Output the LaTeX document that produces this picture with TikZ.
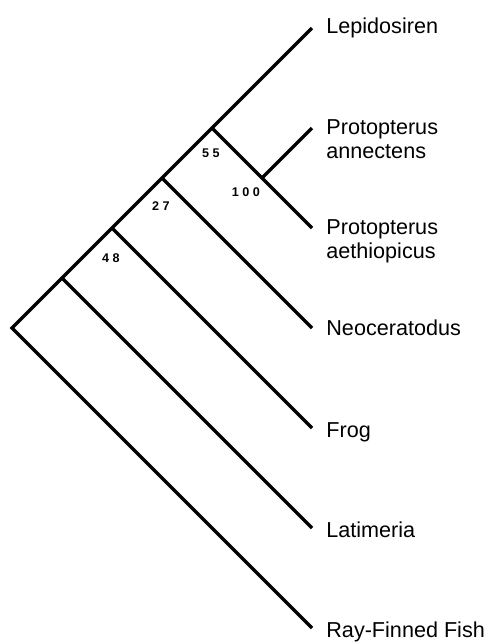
\documentclass[tikz,border=0pt]{standalone}
\usepackage{fontspec}
\setmainfont{Liberation Sans}
\usepackage{tikz}
\usetikzlibrary{positioning}
\newcommand\taxonfont{\fontsize{10.8}{12}\selectfont}
\newcommand\bootfont{\fontsize{6.3}{7}\selectfont\bfseries}
\tikzstyle{branch}=[line width=1.6pt, line join=miter]
\tikzstyle{taxon}=[anchor=base west, inner sep=0pt, align=left, font=\taxonfont]
\tikzstyle{boot}=[inner sep=0pt, font=\bootfont]

\begin{document}
\begin{tikzpicture}[x=0.5pt,y=-0.5pt]
    \useasboundingbox (0,0) rectangle (489,644);
    % inner nodes
    \coordinate (root) at (12, 328);
    \coordinate (n1)   at (62, 278);
    \coordinate (n48)  at (112, 228);
    \coordinate (n27)  at (162, 178);
    \coordinate (n55)  at (212, 128);
    \coordinate (n100) at (262, 178);
    % tips
    \coordinate (lep)  at (312, 28);
    \coordinate (ann)  at (312, 128);
    \coordinate (aeth) at (312, 228);
    \coordinate (neo)  at (312, 328);
    \coordinate (frog) at (312, 428);
    \coordinate (lati) at (312, 528);
    \coordinate (ray)  at (312, 628);

    \draw[branch] (lep) -- (root) -- (ray);
    \draw[branch] (n55) -- (aeth);
    \draw[branch] (n100) -- (ann);
    \draw[branch] (n27) -- (neo);
    \draw[branch] (n48) -- (frog);
    \draw[branch] (n1) -- (lati);

    \node[boot] (b55)  at (211, 153) {5 5};
    \node[boot] (b100) at (246, 192) {1 0 0};
    \node[boot] (b27)  at (161, 206) {2 7};
    \node[boot] (b48)  at (111, 258) {4 8};

    \node[taxon] (tlep)  at (326, 33.5)  {Lepidosiren};
    \node[taxon] (tann)  at (326, 158.5) {Protopterus\\annectens};
    \node[taxon] (taeth) at (326, 258.5) {Protopterus\\aethiopicus};
    \node[taxon] (tneo)  at (326, 335.5) {Neoceratodus};
    \node[taxon] (tfrog) at (326, 437.5) {Frog};
    \node[taxon] (tlati) at (326, 537.5) {Latimeria};
    \node[taxon] (tray)  at (326, 637.5) {Ray-Finned Fish};
\end{tikzpicture}
\end{document}
